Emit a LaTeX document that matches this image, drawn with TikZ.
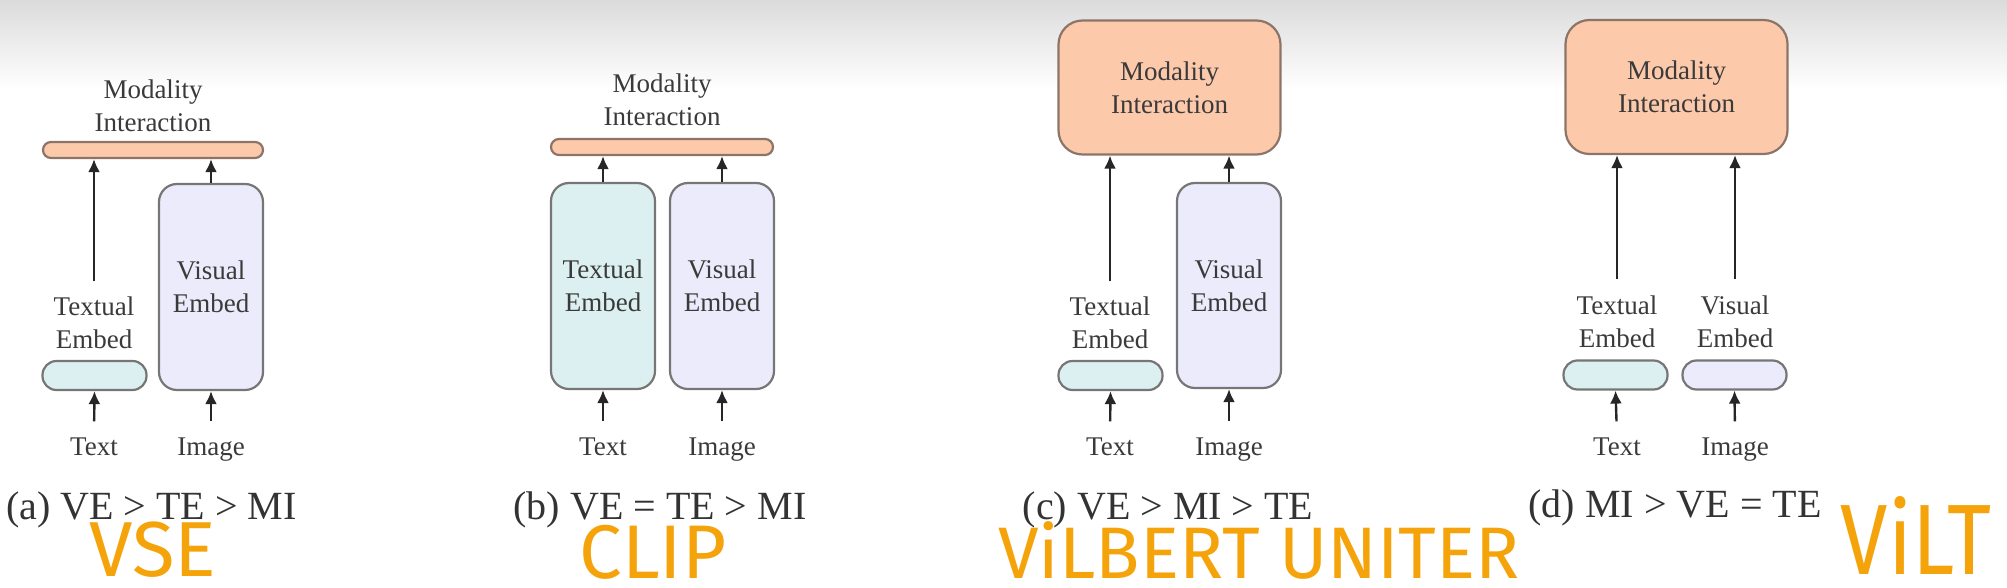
\documentclass[tikz,border=0pt]{standalone}
\usepackage{fontspec}
\setmainfont{Liberation Serif}
\newfontfamily\handfont{Fira Sans}
\usetikzlibrary{arrows.meta}
\definecolor{mifill}{HTML}{FCC9AB}
\definecolor{mistroke}{HTML}{8C7568}
\definecolor{tefill}{HTML}{DDF0F1}
\definecolor{vefill}{HTML}{ECEBFB}
\definecolor{boxstroke}{HTML}{767676}
\definecolor{labtext}{HTML}{3A3A3A}
\definecolor{handcol}{HTML}{F5A30A}
\begin{document}
\begin{tikzpicture}[x=1pt,y=-1pt,
  lab/.style={font=\fontsize{27}{33}\selectfont, text=labtext, align=center, inner sep=0pt},
  inlab/.style={lab, text height=18.5pt, text depth=6pt, anchor=base},
  box/.style={draw=boxstroke, line width=2.2pt, inner sep=0pt},
  mibox/.style={box, draw=mistroke, fill=mifill},
  tebox/.style={box, fill=tefill},
  vebox/.style={box, fill=vefill},
  bar/.style={minimum height=16pt, rounded corners=8pt},
  pill/.style={minimum width=104pt, minimum height=29pt, rounded corners=14pt},
  tall/.style={minimum width=104pt, minimum height=206pt, rounded corners=18pt},
  big/.style={minimum width=222pt, minimum height=134pt, rounded corners=24pt},
  arr/.style={-{Latex[length=13pt,width=12pt]}, line width=2.4pt, draw=black!85},
  captxt/.style={font=\fontsize{40}{44}\selectfont, text=black!80, anchor=base, inner sep=0pt},
  note/.style={text=handcol, inner sep=0pt},
]
\useasboundingbox (0,0) rectangle (2007,588);
\shade[top color=black!14, bottom color=white] (0,0) rectangle (2007,90);

% ---------------- (a)
\node[lab] (mla) at (153,105.5) {Modality\\Interaction};
\node[box, mibox, bar, minimum width=220pt] (mia) at (153,150) {};
\node[box, vebox, tall, lab] (vea) at (211,287) {Visual\\Embed};
\node[lab] (tla) at (94,322.5) {Textual\\Embed};
\node[box, tebox, pill] (tea) at (94.5,375.5) {};
\node[inlab] (txa) at (94,455) {Text};
\node[inlab] (ima) at (211,455) {Image};
\draw[arr, shorten <=15pt] (tla.north) -- (tla.north |- mia.south);
\draw[arr] (vea.north) -- (vea.north |- mia.south);
\draw[arr, shorten <=15pt] (txa.north) -- (tea.south);
\draw[arr, shorten <=15pt] (ima.north) -- (vea.south);
\node[captxt] (ca) at (151.5,519) {(a) VE > TE > MI};
\node[note, font=\handfont\fontsize{78}{78}\selectfont] (na) at (153,550) {VSE};

% ---------------- (b)
\node[lab] (mlb) at (662,100) {Modality\\Interaction};
\node[box, mibox, bar, minimum width=222pt] (mib) at (662,147) {};
\node[box, tebox, tall, lab] (teb) at (603,286) {Textual\\Embed};
\node[box, vebox, tall, lab] (veb) at (722,286) {Visual\\Embed};
\node[inlab] (txb) at (603,455) {Text};
\node[inlab] (imb) at (722,455) {Image};
\draw[arr] (teb.north) -- (teb.north |- mib.south);
\draw[arr] (veb.north) -- (veb.north |- mib.south);
\draw[arr, shorten <=15pt] (txb.north) -- (teb.south);
\draw[arr, shorten <=15pt] (imb.north) -- (veb.south);
\node[captxt] (cb) at (660,519) {(b) VE = TE > MI};
\node[note, font=\handfont\fontsize{76}{76}\selectfont] (nb) at (653,552) {CLIP};

% ---------------- (c)
\node[box, mibox, big, lab] (mic) at (1169.5,87.5) {Modality\\Interaction};
\node[box, vebox, tall, lab, minimum height=205pt] (vec) at (1229,285.5) {Visual\\Embed};
\node[lab] (tlc) at (1110,322.5) {Textual\\Embed};
\node[box, tebox, pill] (tec) at (1110.5,375.5) {};
\node[inlab] (txc) at (1110,455) {Text};
\node[inlab] (imc) at (1229,455) {Image};
\draw[arr, shorten <=15pt] (tlc.north) -- (tlc.north |- mic.south);
\draw[arr] (vec.north) -- (vec.north |- mic.south);
\draw[arr, shorten <=15pt] (txc.north) -- (tec.south);
\draw[arr, shorten <=15pt] (imc.north) -- (vec.south);
\node[captxt] (cc) at (1168,519) {(c) VE > MI > TE};
\node[note, font=\handfont\fontsize{73}{73}\selectfont] (nc) at (1259,550) {ViLBERT UNITER};

% ---------------- (d)
\node[box, mibox, big, lab] (mid) at (1676.5,87) {Modality\\Interaction};
\node[lab] (tld) at (1617,321.5) {Textual\\Embed};
\node[lab] (vld) at (1735,321.5) {Visual\\Embed};
\node[box, tebox, pill] (ted) at (1615.5,375) {};
\node[box, vebox, pill] (ved) at (1734.5,375) {};
\node[inlab] (txd) at (1617,455) {Text};
\node[inlab] (imd) at (1735,455) {Image};
\draw[arr, shorten <=16pt] (tld.north) -- (tld.north |- mid.south);
\draw[arr, shorten <=16pt] (vld.north) -- (vld.north |- mid.south);
\draw[arr, shorten <=15pt] (txd.north) -- (ted.south);
\draw[arr, shorten <=15pt] (imd.north) -- (ved.south);
\node[captxt] (cd) at (1675,517) {(d) MI > VE = TE};
\node[note, font=\handfont\fontsize{100}{100}\selectfont, xscale=0.85] (nd) at (1916,535) {ViLT};
\end{tikzpicture}
\end{document}
